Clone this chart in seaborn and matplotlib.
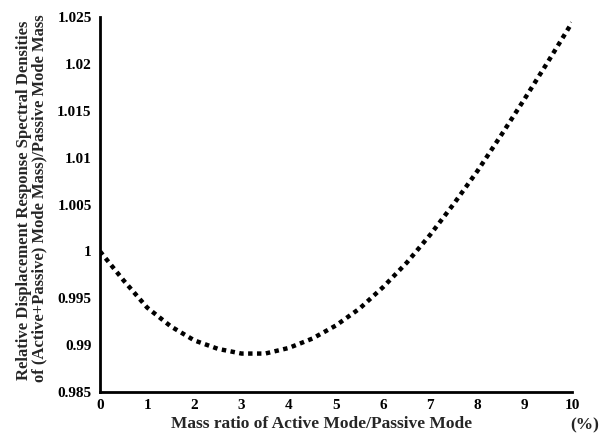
import matplotlib
matplotlib.use("Agg")
import matplotlib.pyplot as plt
from matplotlib.ticker import FuncFormatter, MultipleLocator
import seaborn as sns
import pandas as pd

mass_ratio = [0, 0.5, 1, 1.5, 2, 2.5, 3, 3.5, 4, 4.5, 5, 5.5, 6, 6.5, 7, 7.5, 8, 8.5, 9, 9.5, 10]
rel_density = [1.0000, 0.9969, 0.9940, 0.9920, 0.9905, 0.9896, 0.9891, 0.9891, 0.9897, 0.9907,
               0.9921, 0.9939, 0.9962, 0.9988, 1.0018, 1.0051, 1.0086, 1.0124, 1.0163, 1.0203, 1.0244]
x_ticks = [0, 1, 2, 3, 4, 5, 6, 7, 8, 9, 10]
y_ticks = [0.985, 0.99, 0.995, 1.0, 1.005, 1.01, 1.015, 1.02, 1.025]

sns.set_style("white")
plt.rcParams['font.family'] = ['Liberation Serif', 'DejaVu Serif']
plt.rcParams['font.weight'] = 'bold'

df = pd.DataFrame({"x": mass_ratio, "y": rel_density})

fig = plt.figure(figsize=(6, 4.37), dpi=100)
ax = fig.add_axes([100/600, 1-392/437, 472/600, (392-17)/437])
sns.lineplot(data=df, x="x", y="y", ax=ax, color="black", linewidth=3.2,
             linestyle=(0, (1, 1.0)), dash_capstyle="butt")

ax.set_xlim(0, 10)
ax.set_ylim(0.985, 1.025)
ax.set_xticks(x_ticks)
ax.set_yticks(y_ticks)
ax.xaxis.set_minor_locator(MultipleLocator(0.5))
ax.yaxis.set_major_formatter(FuncFormatter(lambda v, p: "%g" % round(v, 4)))
ax.tick_params(axis="both", which="major", direction="in", length=3, width=1,
               labelsize=11, pad=5, colors="black")
ax.tick_params(axis="y", which="major", pad=6)
ax.tick_params(axis="x", which="minor", direction="in", length=2, width=0.8)
for lab in ax.get_xticklabels() + ax.get_yticklabels():
    lab.set_fontweight("bold")

for s in ["top", "right"]:
    ax.spines[s].set_visible(False)
for s in ["left", "bottom"]:
    ax.spines[s].set_linewidth(2)
    ax.spines[s].set_color("black")

ax.set_xlabel("")
ax.set_ylabel("")
fig.text(322/600, 1-424/437, "Mass ratio of Active Mode/Passive Mode", ha="center", va="center",
         fontsize=12.5, fontweight="bold")
fig.text(599/600, 1-425/437, "(%)", ha="right", va="center", fontsize=12.5, fontweight="bold")
fig.text(24/600, 1-200/437, "Relative Displacement Response Spectral Densities", rotation=90,
         ha="center", va="center", fontsize=12, fontweight="bold")
fig.text(39/600, 1-198/437, "of (Active+Passive) Mode Mass)/Passive Mode Mass", rotation=90,
         ha="center", va="center", fontsize=12, fontweight="bold")

fig.savefig("out.png", dpi=100, facecolor="white")
